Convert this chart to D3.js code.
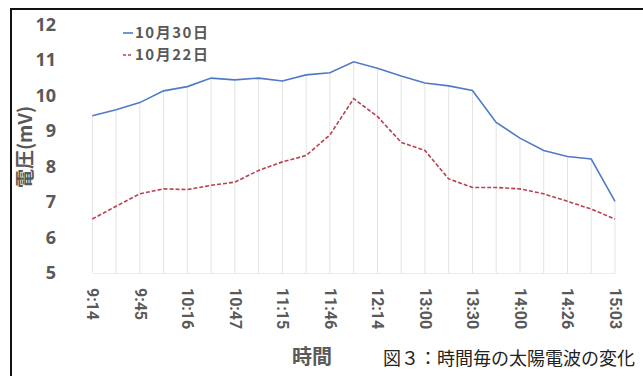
<!DOCTYPE html>
<html>
<head>
<meta charset="utf-8">
<script src="https://cdn.jsdelivr.net/npm/d3@7"></script>
<style>
  body { margin: 0; background: #fff; }
  text { font-family: "Noto Sans CJK JP", "Noto Sans", sans-serif; }
</style>
</head>
<body>
<svg id="drawing_region"></svg>
<script>
// times (only every other one is labelled on the axis)
var times = ['9:14','9:30','9:45','10:01','10:16','10:32','10:47','11:01','11:15','11:31','11:46','12:00',
             '12:14','12:37','13:00','13:15','13:30','13:45','14:00','14:13','14:26','14:45','15:03'];
var oct30 = [9.43,9.60,9.80,10.13,10.25,10.49,10.44,10.49,10.41,10.58,10.64,10.95,
             10.77,10.55,10.35,10.27,10.14,9.24,8.80,8.45,8.28,8.21,7.02];
var oct22 = [6.52,6.88,7.23,7.37,7.35,7.47,7.56,7.89,8.13,8.31,8.89,9.91,
             9.41,8.68,8.45,7.65,7.41,7.41,7.37,7.23,7.02,6.80,6.52];
var seriesNames = ['10月30日','10月22日'];
var yTicks = [5,6,7,8,9,10,11,12];

var width = 643;
var height = 376;

var svg = d3.select('#drawing_region')
    .attr('width', width)
    .attr('height', height);

var xscale = d3.scalePoint()
    .domain(times)
    .range([92.3, 615]);

var yscale = d3.scaleLinear()
    .domain([5, 12])
    .range([273, 24.5]);

// frame (only left and top edges are visible in the picture)
svg.append('path')
    .attr('d', 'M11,380 L11,9 L650,9')
    .attr('fill', 'none')
    .attr('stroke', '#111')
    .attr('stroke-width', 2);

// drop lines from the higher series down to the axis
svg.append('g')
    .selectAll('line')
    .data(times)
    .join('line')
    .attr('x1', d => xscale(d))
    .attr('x2', d => xscale(d))
    .attr('y1', (d, i) => yscale(Math.max(oct30[i], oct22[i])))
    .attr('y2', yscale(5))
    .attr('stroke', '#e3e3e3')
    .attr('stroke-width', 1);

// bottom axis
var xaxis = d3.axisBottom(xscale)
    .tickValues(times.filter((d, i) => i % 2 == 0))
    .tickSize(0)
    .tickPadding(0);

var xg = svg.append('g')
    .attr('transform', `translate(0, ${yscale(5)})`)
    .call(xaxis);
xg.select('.domain').attr('stroke', '#ececec');
xg.selectAll('text')
    .attr('transform', 'rotate(90)')
    .attr('x', 15)
    .attr('y', 0)
    .attr('dy', '0.35em')
    .attr('text-anchor', 'start')
    .attr('fill', '#595959')
    .style('font-family', 'Roboto, sans-serif')
    .style('font-weight', 'bold')
    .style('font-size', '16px');

// left axis
var yaxis = d3.axisLeft(yscale)
    .tickValues(yTicks)
    .tickFormat(d3.format('d'))
    .tickSize(0)
    .tickPadding(0);

var yg = svg.append('g')
    .attr('transform', 'translate(56, 0)')
    .call(yaxis);
yg.select('.domain').remove();
yg.selectAll('text')
    .attr('fill', '#595959')
    .style('font-family', '"Open Sans", sans-serif')
    .style('font-weight', 'bold')
    .style('font-size', '18px');

// lines
var line = d3.line()
    .x((d, i) => xscale(times[i]))
    .y(d => yscale(d));

svg.append('path')
    .datum(oct30)
    .attr('d', line)
    .attr('fill', 'none')
    .attr('stroke', '#4f7bc6')
    .attr('stroke-width', 1.6);

svg.append('path')
    .datum(oct22)
    .attr('d', line)
    .attr('fill', 'none')
    .attr('stroke', '#b8404f')
    .attr('stroke-width', 1.6)
    .attr('stroke-dasharray', '4,2');

// legend
var legend = svg.append('g');
[0, 1].forEach(function(i) {
    var y = 33 + i * 22;
    legend.append('line')
        .attr('x1', 123).attr('x2', 133)
        .attr('y1', y).attr('y2', y)
        .attr('stroke', i == 0 ? '#4f7bc6' : '#b8404f')
        .attr('stroke-width', 1.6)
        .attr('stroke-dasharray', i == 0 ? null : '3,2');
    legend.append('text')
        .attr('x', 135)
        .attr('y', y)
        .attr('dy', '0.35em')
        .attr('fill', '#595959')
        .style('font-weight', 'bold')
        .style('font-size', '15px')
        .style('letter-spacing', '1.5px')
        .text(seriesNames[i]);
});

// axis titles
svg.append('text')
    .attr('transform', 'translate(25, 147) rotate(-90)')
    .attr('text-anchor', 'middle')
    .attr('dy', '0.35em')
    .attr('fill', '#595959')
    .style('font-weight', 'bold')
    .style('font-size', '19px')
    .text('電圧(mV)');

svg.append('text')
    .attr('x', 312)
    .attr('y', 357)
    .attr('text-anchor', 'middle')
    .attr('dy', '0.35em')
    .attr('fill', '#595959')
    .style('font-weight', 'bold')
    .style('font-size', '20px')
    .text('時間');

// caption
svg.append('text')
    .attr('x', 383)
    .attr('y', 359)
    .attr('dy', '0.35em')
    .attr('fill', '#222')
    .style('font-size', '18px')
    .text('図３：時間毎の太陽電波の変化');
</script>
</body>
</html>
